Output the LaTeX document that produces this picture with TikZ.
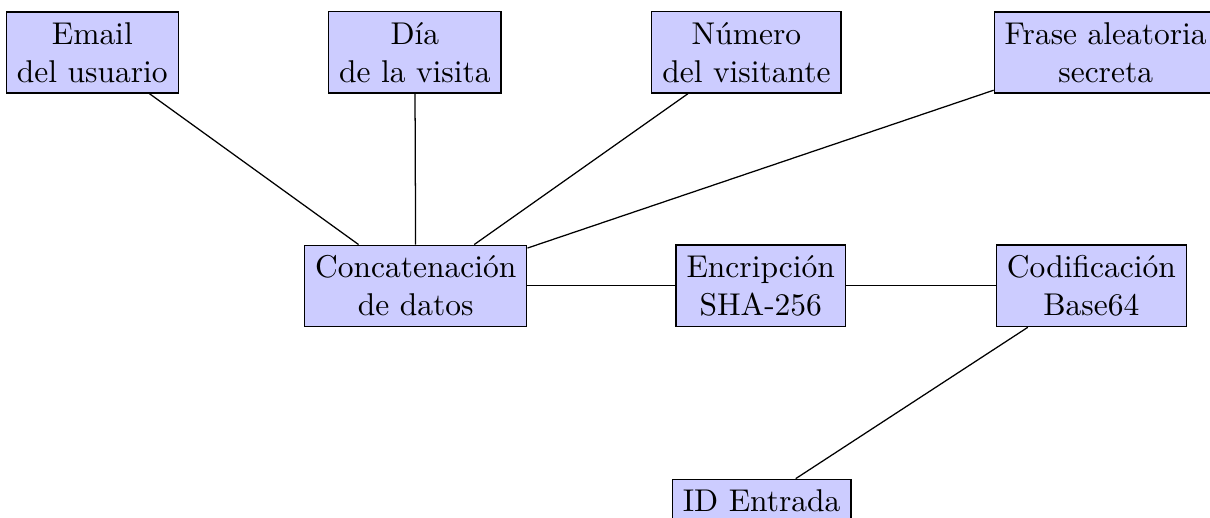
\documentclass[tikz,border=0pt]{standalone}
\usepackage{xcolor}
\usepackage{tikz}
\definecolor{boxcolor}{HTML}{CCCCFF}
\tikzset{databox/.style={draw, rectangle, fill=boxcolor, align=center}}

\begin{document}
\begin{tikzpicture}%
\useasboundingbox (0, 0) rectangle (13.504, -5.781);%
\node[databox] (email) at (1.03, -0.585) {Email\\del usuario};%
\node[databox] (dia) at (4.63, -0.585) {Día\\de la visita};%
\node[databox] (numero) at (8.33, -0.585) {Número\\del visitante};%
\node[databox] (frase) at (12.34, -0.585) {Frase aleatoria\\secreta};%
\node[databox] (concat) at (4.64, -3.19) {Concatenación\\de datos};%
\node[databox] (sha) at (8.49, -3.19) {Encripción\\SHA-256};%
\node[databox] (base) at (12.18, -3.19) {Codificación\\Base64};%
\node[databox] (id) at (8.50, -5.59) {ID Entrada};%
\draw (email) -- (concat);%
\draw (dia) -- (concat);%
\draw (numero) -- (concat);%
\draw (frase) -- (concat);%
\draw (concat) -- (sha);%
\draw (sha) -- (base);%
\draw (base) -- (id);%
\end{tikzpicture}
\end{document}
